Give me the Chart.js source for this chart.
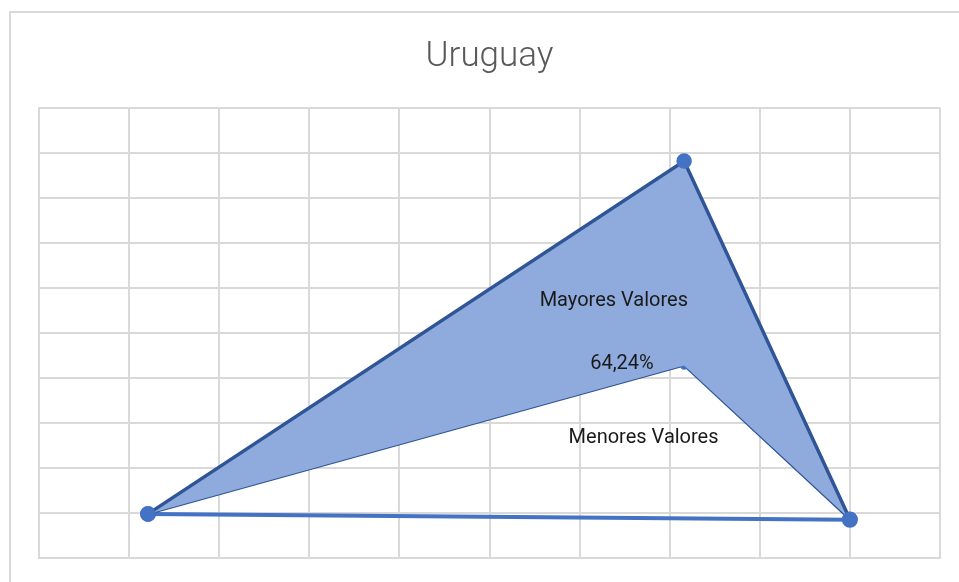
<!DOCTYPE html>
<html>
<head>
<meta charset="utf-8">
<script src="https://cdn.jsdelivr.net/npm/chart.js@4.4.0/dist/chart.umd.min.js"></script>
<style>
  html, body { margin: 0; padding: 0; background: #fff; }
  #wrap { position: relative; width: 959px; height: 582px; }
  #frame { position: absolute; left: 9px; top: 11px; width: 960px; height: 580px;
           border-left: 2px solid #d9d9d9; border-top: 2px solid #d9d9d9; }
  canvas { position: absolute; left: 0; top: 0; }
</style>
</head>
<body>
<div id="wrap">
  <div id="frame"></div>
  <canvas id="mycanvas" width="959" height="582"></canvas>
</div>
<script>
var title = 'Uruguay';
// points are [x, y] on a 0..10 grid
var mayores = [[1.21, 0.98], [7.16, 8.82], [9.0, 0.86]];
var menores = [[1.21, 0.98], [7.16, 4.28], [9.0, 0.86]];
var base = [[1.21, 0.98], [9.0, 0.85]];
var labels = [
  { text: 'Mayores Valores', x: 6.38, y: 5.72 },
  { text: '64,24%', x: 6.47, y: 4.32 },
  { text: 'Menores Valores', x: 6.71, y: 2.67 }
];

function toXY(arr) {
  return arr.map(function(p){ return { x: p[0], y: p[1] }; });
}

var textLabels = {
  id: 'textLabels',
  afterDatasetsDraw: function(chart) {
    var ctx = chart.ctx;
    ctx.save();
    ctx.font = '20px Roboto';
    ctx.fillStyle = '#1a1a1a';
    ctx.textAlign = 'center';
    ctx.textBaseline = 'middle';
    labels.forEach(function(l) {
      ctx.fillText(l.text, chart.scales.x.getPixelForValue(l.x), chart.scales.y.getPixelForValue(l.y));
    });
    ctx.restore();
  }
};

var gridOpts = { color: '#d9d9d9', lineWidth: 2, drawTicks: false };

new Chart(document.getElementById('mycanvas'), {
  type: 'scatter',
  data: {
    datasets: [
      {
        label: 'Mayores',
        data: toXY(mayores),
        showLine: true,
        borderColor: '#2f5597',
        borderWidth: 3.5,
        backgroundColor: '#8faadc',
        pointBackgroundColor: '#4472c4',
        pointBorderColor: '#4472c4',
        pointRadius: 6,
        fill: '+1',
        order: 1
      },
      {
        label: 'Menores',
        data: toXY(menores),
        showLine: true,
        borderColor: '#2f5597',
        borderWidth: 2.5,
        pointBackgroundColor: '#4472c4',
        pointBorderColor: '#4472c4',
        pointRadius: 3,
        fill: false,
        order: 2
      },
      {
        label: 'Base',
        data: toXY(base),
        showLine: true,
        borderColor: '#4472c4',
        borderWidth: 4,
        pointBackgroundColor: '#4472c4',
        pointBorderColor: '#4472c4',
        pointRadius: 6,
        fill: false,
        order: 3
      }
    ]
  },
  options: {
    responsive: false,
    animation: false,
    layout: { padding: { left: 39, right: 19, bottom: 24, top: 0 } },
    plugins: {
      legend: { display: false },
      tooltip: { enabled: false },
      title: {
        display: true,
        text: title,
        color: '#595959',
        font: { family: 'Roboto', size: 35, weight: '300' },
        padding: { top: 36, bottom: 30 }
      }
    },
    scales: {
      x: {
        type: 'linear', min: 0, max: 10,
        ticks: { display: false, stepSize: 1 },
        grid: gridOpts,
        border: { display: true, color: '#d9d9d9', width: 2 }
      },
      y: {
        type: 'linear', min: 0, max: 10,
        ticks: { display: false, stepSize: 1 },
        grid: gridOpts,
        border: { display: true, color: '#d9d9d9', width: 2 }
      }
    }
  },
  plugins: [textLabels]
});
</script>
</body>
</html>
